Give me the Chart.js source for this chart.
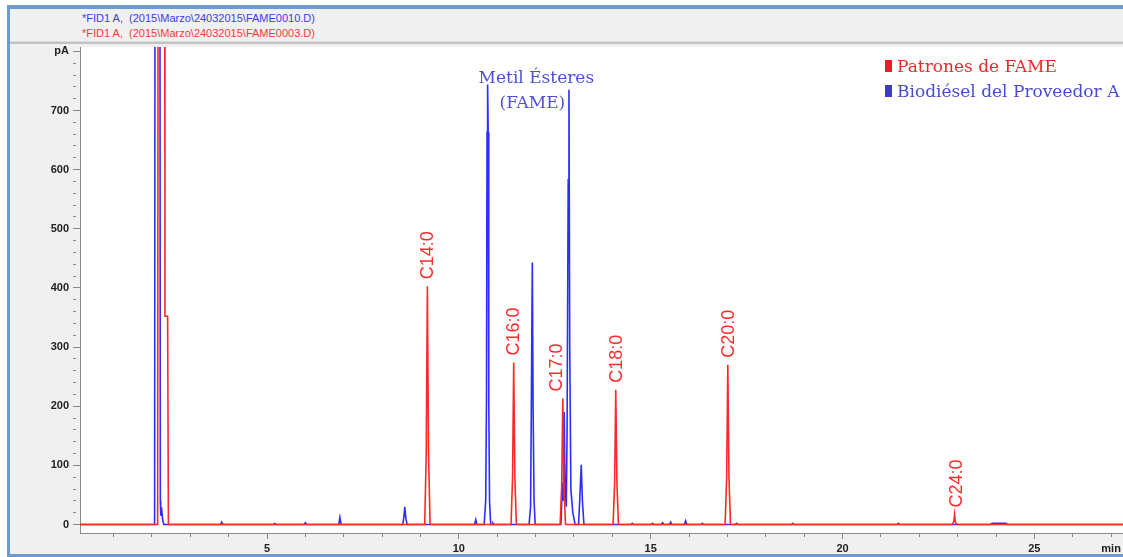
<!DOCTYPE html>
<html>
<head>
<meta charset="utf-8">
<title>FID1 A - FAME</title>
<script src="https://cdn.jsdelivr.net/npm/chart.js"></script>
<style>
  body { margin: 0; width: 1123px; height: 557px; overflow: hidden; background: #fff; }
  #frame { position: absolute; left: 7px; top: 5px; width: 1116px; height: 552px; box-sizing: border-box;
           border-left: 3px solid #6b9bd2; border-top: 4px solid #6b9bd2; border-bottom: 3px solid #6b9bd2;
           background: #f0f0f0; }
  #head { position: absolute; left: 0; top: 0; right: 0; height: 32px; border-bottom: 1px solid #dcdcdc;
          box-shadow: 0 2px 0 #c2c2c2; }
  .ln { position: absolute; left: 72px; font: 11px "Liberation Sans", Arial, sans-serif; white-space: pre; }
  #wrap { position: absolute; left: 0; top: 36px; width: 1113px; height: 509px; }
</style>
</head>
<body>
<div id="frame">
  <div id="head">
    <div class="ln" style="top:3px;color:#3c3cf0">*FID1 A,  (2015\Marzo\24032015\FAME0010.D)</div>
    <div class="ln" style="top:18px;color:#f03c3c">*FID1 A,  (2015\Marzo\24032015\FAME0003.D)</div>
  </div>
  <div id="wrap"><canvas id="ChartFid"></canvas></div>
</div>
<script>
// retention time (min) / signal (pA)
const redTime = [0.10, 2.15, 2.18, 2.32, 2.34, 2.41, 2.43,
  9.11, 9.15, 9.18, 9.21, 9.25,
  11.36, 11.40, 11.43, 11.46, 11.50,
  12.64, 12.68, 12.71, 12.74, 12.78,
  14.02, 14.06, 14.09, 14.12, 14.16,
  16.94, 16.98, 17.01, 17.04, 17.08,
  22.86, 22.90, 22.92, 22.94, 22.98,
  27.40];
const redSignal = [0, 0, 2600, 2600, 352, 352, 0,
  0, 120, 403, 120, 0,
  0, 80, 274, 80, 0,
  0, 65, 213, 65, 0,
  0, 70, 228, 70, 0,
  0, 80, 270, 80, 0,
  0, 5, 17, 5, 0,
  0];

const blueTime = [0.10, 2.07, 2.10, 2.19, 2.22, 2.23, 2.25, 2.28, 2.31,
  3.79, 3.82, 3.85,
  5.17, 5.20, 5.23,
  5.97, 6.00, 6.03,
  6.87, 6.90, 6.93,
  8.54, 8.57, 8.59, 8.62, 8.65,
  10.41, 10.44, 10.47,
  10.66, 10.70, 10.72, 10.735, 10.75, 10.765, 10.78, 10.80, 10.83,
  10.87, 10.89, 10.91,
  11.83, 11.87, 11.89, 11.915, 11.935, 11.96, 11.99,
  12.66, 12.70, 12.72, 12.745, 12.77, 12.80, 12.82, 12.85, 12.87, 12.89, 12.92, 12.97, 13.03,
  13.12, 13.15, 13.19, 13.22, 13.26,
  14.49, 14.52, 14.55,
  15.02, 15.05, 15.08, 15.28, 15.31, 15.34, 15.49, 15.52, 15.55, 15.88, 15.91, 15.94, 16.32, 16.35, 16.38,
  17.21, 17.24, 17.27,
  18.67, 18.70, 18.73,
  21.43, 21.46, 21.49,
  23.86, 23.90, 24.26, 24.30,
  27.40];
const blueSignal = [0, 0, 2600, 2600, 40, 15, 29, 8, 0,
  0, 4, 0,
  0, 1.5, 0,
  0, 3, 0,
  0, 12, 0,
  0, 14, 30, 10, 0,
  0, 8, 0,
  0, 40, 206, 663, 744, 663, 206, 40, 0,
  0, 2, 0,
  0, 30, 206, 443, 200, 40, 0,
  0, 70, 40, 190, 60, 30, 150, 583, 735, 300, 59, 20, 0,
  0, 40, 101, 40, 0,
  0, 2, 0,
  0, 2, 0, 0, 3, 0, 0, 4, 0, 0, 6, 0, 0, 2, 0,
  0, 2, 0,
  0, 2, 0,
  0, 2, 0,
  0, 2, 2, 0,
  0];

const seriesNames = ['Patrones de FAME', 'Biodiésel del Proveedor A'];
const peakNames = ['C14:0', 'C16:0', 'C17:0', 'C18:0', 'C20:0', 'C24:0'];
const peakLabelTime = [9.17, 11.41, 12.52, 14.09, 17.01, 22.95];
const peakLabelTop = [403, 274, 213, 228, 270, 17];
const fameNote = ['Metil Ésteres', '(FAME)'];

const xTicks = [1, 2, 3, 4, 5, 6, 7, 8, 9, 10, 11, 12, 13, 14, 15, 16, 17, 18, 19, 20, 21, 22, 23, 24, 25, 26, 27];
const yTicks = [0, 20, 40, 60, 80, 100, 120, 140, 160, 180, 200, 220, 240, 260, 280, 300, 320, 340, 360, 380,
  400, 420, 440, 460, 480, 500, 520, 540, 560, 580, 600, 620, 640, 660, 680, 700, 720, 740, 760, 780, 800];

const RED = 'rgb(255,40,40)';
const BLUE = 'rgb(45,45,255)';

function toPoints(t, s) {
  return t.map(function (v, i) { return { x: v, y: s[i] }; });
}

// white plot area, labels and legend drawn on top of the traces
const fidDecor = {
  id: 'fidDecor',
  beforeDraw(chart) {
    const a = chart.chartArea, c = chart.ctx;
    c.save();
    c.fillStyle = '#fff';
    c.fillRect(a.left, a.top, a.right - a.left, a.bottom - a.top);
    c.restore();
  },
  afterDatasetsDraw(chart) {
    const c = chart.ctx, xs = chart.scales.x, ys = chart.scales.y;
    c.save();
    // peak names, rotated
    c.fillStyle = '#ff2a2a';
    c.font = '18px "Liberation Sans", Arial, sans-serif';
    c.textAlign = 'left';
    c.textBaseline = 'middle';
    peakNames.forEach(function (name, i) {
      c.save();
      c.translate(xs.getPixelForValue(peakLabelTime[i]), ys.getPixelForValue(peakLabelTop[i]) - 7);
      c.rotate(-Math.PI / 2);
      c.fillText(name, 0, 1);
      c.restore();
    });
    // FAME note
    c.fillStyle = '#4f4fd6';
    c.font = '17px "DejaVu Serif", serif';
    c.textAlign = 'center';
    c.textBaseline = 'alphabetic';
    const nx = xs.getPixelForValue(12.02);
    c.fillText(fameNote[0], nx, ys.getPixelForValue(747));
    c.fillText(fameNote[1], nx - 4, ys.getPixelForValue(704));
    // legend
    const colors = [['#ee1c24', '#f02828'], ['#3c3cc8', '#4a4ad0']];
    c.textAlign = 'left';
    seriesNames.forEach(function (name, i) {
      const base = chart.chartArea.top + 25 + i * 25;
      c.fillStyle = colors[i][0];
      c.fillRect(875, base - 12, 7, 12);
      c.fillStyle = colors[i][1];
      c.fillText(name, 887, base);
    });
    c.restore();
  }
};

const ctx = document.getElementById('ChartFid').getContext('2d');
const fidChart = new Chart(ctx, {
  type: 'line',
  data: {
    datasets: [{
      label: seriesNames[0],
      data: toPoints(redTime, redSignal),
      borderColor: RED,
      borderWidth: 1.6,
      pointRadius: 0,
      tension: 0
    }, {
      label: seriesNames[1],
      data: toPoints(blueTime, blueSignal),
      borderColor: BLUE,
      borderWidth: 1.6,
      pointRadius: 0,
      tension: 0
    }]
  },
  options: {
    responsive: true,
    maintainAspectRatio: false,
    animation: false,
    parsing: false,
    layout: { padding: { top: 2, left: 0, right: 0, bottom: 0 } },
    plugins: { legend: { display: false }, tooltip: { enabled: false }, title: { display: false } },
    scales: {
      x: {
        type: 'linear',
        min: 0.126,
        max: 27.31,
        afterBuildTicks: function (s) { s.ticks = xTicks.map(function (v) { return { value: v }; }); },
        afterFit: function (s) { s.height = 21; s.paddingLeft = 0; s.paddingRight = 0; },
        border: { display: true, color: '#8a8a8a', width: 1 },
        grid: {
          drawOnChartArea: false,
          tickLength: 6,
          tickColor: '#8a8a8a',
          tickBorderDash: function (c) { return c.tick && c.tick.value % 5 === 0 ? [] : [3, 20]; }
        },
        ticks: {
          autoSkip: false,
          maxRotation: 0,
          padding: 3,
          color: '#222',
          font: { family: '"Liberation Sans", Arial, sans-serif', size: 11, weight: 'bold' },
          callback: function (v) { return v === 27 ? 'min' : (v % 5 === 0 ? String(v) : ''); }
        }
      },
      y: {
        type: 'linear',
        min: -14.4,
        max: 807.4,
        afterBuildTicks: function (s) { s.ticks = yTicks.map(function (v) { return { value: v }; }); },
        afterFit: function (s) { s.width = 70; s.paddingTop = 0; s.paddingBottom = 0; },
        border: { display: true, color: '#8a8a8a', width: 1 },
        grid: {
          drawOnChartArea: false,
          tickLength: 7,
          tickColor: '#8a8a8a',
          tickBorderDash: function (c) { return c.tick && c.tick.value % 100 === 0 ? [] : [3, 20]; }
        },
        ticks: {
          autoSkip: false,
          padding: 4,
          color: '#222',
          font: { family: '"Liberation Sans", Arial, sans-serif', size: 11, weight: 'bold' },
          callback: function (v) { return v === 800 ? 'pA' : (v % 100 === 0 ? String(v) : ''); }
        }
      }
    }
  },
  plugins: [fidDecor]
});
</script>
</body>
</html>
